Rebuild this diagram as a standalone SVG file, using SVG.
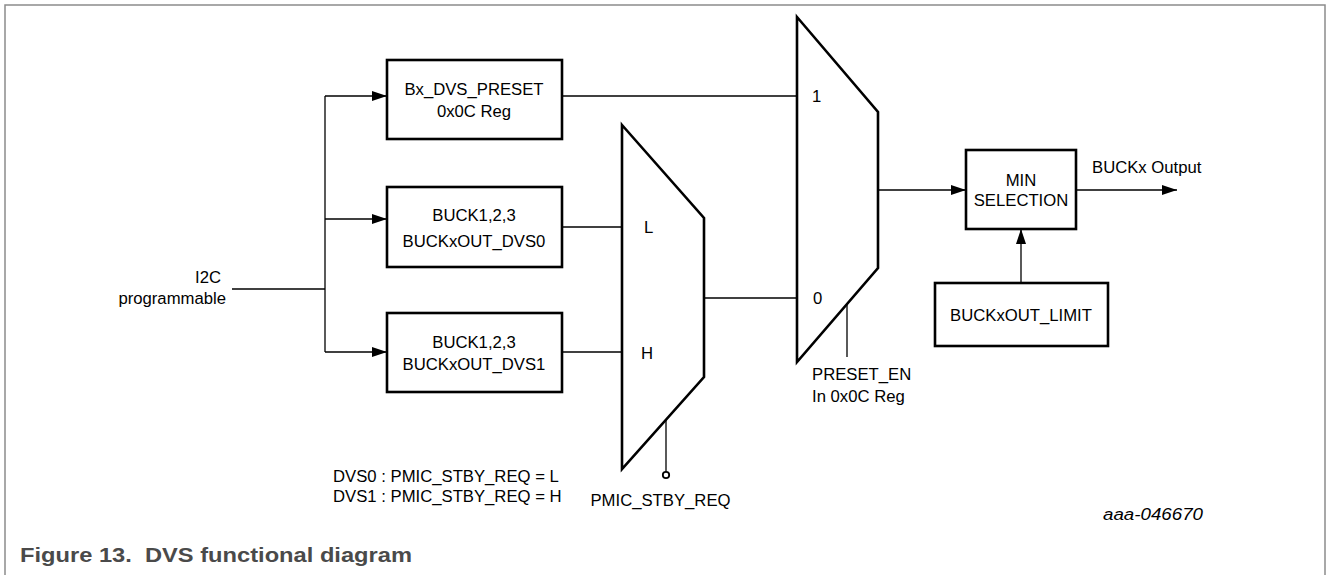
<svg xmlns="http://www.w3.org/2000/svg" width="1328" height="575" viewBox="0 0 1328 575">
<defs>
<style>
.box{fill:#fff;stroke:#000;stroke-width:2.6}
.mux{fill:#fff;stroke:#000;stroke-width:2.6;stroke-linejoin:miter}
.ln{fill:none;stroke:#000;stroke-width:1.3}
.t{font-family:"Liberation Sans",Arial,sans-serif;font-size:16.7px;fill:#000}
.c{text-anchor:middle}
.e{text-anchor:end}
.cap{font-family:"Liberation Sans",Arial,sans-serif;font-size:21px;font-weight:bold;fill:#4a4a4a;white-space:pre}
</style>
<marker id="arr" viewBox="0 0 15 10" refX="15" refY="5" markerWidth="15" markerHeight="10" markerUnits="userSpaceOnUse" orient="auto">
<path d="M0,0 L15,5 L0,10 Z" fill="#000"/>
</marker>
</defs>
<rect width="1328" height="575" fill="#fff"/>
<path d="M5,575 V5 H1325 V575" fill="none" stroke="#8c8c8c" stroke-width="1.5"/>

<g id="connectors">
<path class="ln" d="M232,289 H325"/>
<path class="ln" d="M325,96 V352"/>
<path class="ln" d="M325,96 H387" marker-end="url(#arr)"/>
<path class="ln" d="M325,219 H387" marker-end="url(#arr)"/>
<path class="ln" d="M325,352 H387" marker-end="url(#arr)"/>
<path class="ln" d="M562,96 H797"/>
<path class="ln" d="M562,227 H622"/>
<path class="ln" d="M562,352 H622"/>
<path class="ln" d="M704,298 H797"/>
<path class="ln" d="M878,190 H966" marker-end="url(#arr)"/>
<path class="ln" d="M1021,283 V229" marker-end="url(#arr)"/>
<path class="ln" d="M1076,190 H1177" marker-end="url(#arr)"/>
<path class="ln" d="M666,419.5 V472"/>
<circle cx="666" cy="475" r="3.2" fill="#fff" stroke="#000" stroke-width="1.8"/>
<path class="ln" d="M847,304 V357"/>
</g>

<g id="i2c">
<text class="t e" x="221" y="283">I2C</text>
<text class="t e" x="226" y="304">programmable</text>
</g>

<g id="preset">
<rect class="box" x="387" y="60" width="175" height="79"/>
<text class="t c" x="474" y="94.5">Bx_DVS_PRESET</text>
<text class="t c" x="474" y="116.5">0x0C Reg</text>
</g>

<g id="dvs0">
<rect class="box" x="387" y="187" width="175" height="80"/>
<text class="t c" x="474" y="220.5">BUCK1,2,3</text>
<text class="t c" x="474" y="246.5">BUCKxOUT_DVS0</text>
</g>

<g id="dvs1">
<rect class="box" x="387" y="313" width="175" height="79"/>
<text class="t c" x="474" y="348">BUCK1,2,3</text>
<text class="t c" x="474" y="369.5">BUCKxOUT_DVS1</text>
</g>

<g id="mux-lh">
<path class="mux" d="M622,125 L704,218 V377 L622,469 Z"/>
<text class="t" x="644" y="233">L</text>
<text class="t" x="641" y="359">H</text>
</g>

<g id="mux-10">
<path class="mux" d="M797,17 L878,112 V268 L797,362 Z"/>
<text class="t" x="812" y="102">1</text>
<text class="t" x="813" y="304">0</text>
</g>

<g id="min-sel">
<rect class="box" x="966" y="150" width="110" height="79"/>
<text class="t c" x="1021" y="185.5">MIN</text>
<text class="t c" x="1021" y="206">SELECTION</text>
</g>

<g id="limit">
<rect class="box" x="935" y="283" width="173" height="63"/>
<text class="t c" x="1021" y="320.5">BUCKxOUT_LIMIT</text>
</g>

<g id="labels">
<text class="t" x="1092" y="173">BUCKx Output</text>
<text class="t" x="812" y="380">PRESET_EN</text>
<text class="t" x="812" y="402">In 0x0C Reg</text>
<text class="t" x="333" y="482">DVS0 : PMIC_STBY_REQ = L</text>
<text class="t" x="333" y="502">DVS1 : PMIC_STBY_REQ = H</text>
<text class="t c" x="660.5" y="506">PMIC_STBY_REQ</text>
<text class="t" x="1103" y="520" font-style="italic" font-size="18" textLength="100" lengthAdjust="spacingAndGlyphs">aaa-046670</text>
</g>

<text class="cap" x="20" y="562" textLength="392" lengthAdjust="spacingAndGlyphs">Figure 13.  DVS functional diagram</text>
</svg>
